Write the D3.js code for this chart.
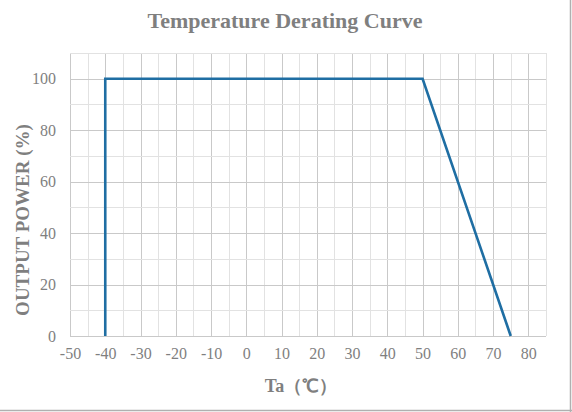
<!DOCTYPE html>
<html><head><meta charset="utf-8">
<script src="https://cdn.jsdelivr.net/npm/d3@7"></script>
<style>body{margin:0;background:#fff}svg{display:block}</style>
</head><body>
<script>
const title = "Temperature Derating Curve";
const xLabel = "Ta（℃）";
const yLabel = "OUTPUT POWER (%)";
const tempC = [-40, -40, 50, 75];
const powerPct = [0, 100, 100, 0];
const xTicks = [-50,-40,-30,-20,-10,0,10,20,30,40,50,60,70,80];
const yTicks = [0,20,40,60,80,100];
const xDomain = [-50, 85];
const yDomain = [0, 110];

const W = 572, H = 412;
const m = {l:70, r:26, t:53, b:76};
const svg = d3.select("body").append("svg").attr("width", W).attr("height", H);
const x = d3.scaleLinear().domain(xDomain).range([m.l, W - m.r]);
const y = d3.scaleLinear().domain(yDomain).range([H - m.b, m.t]);
const serif = "'Liberation Serif','Times New Roman',serif";
const grey = "#7f7f7f";

// frame lines (right, bottom)
svg.append("line").attr("x1", W-1.5).attr("x2", W-1.5).attr("y1", 0).attr("y2", H).attr("stroke", "#b0b0b0").attr("stroke-width", 1.5);
svg.append("line").attr("x1", 0).attr("x2", W).attr("y1", H-1.5).attr("y2", H-1.5).attr("stroke", "#b0b0b0").attr("stroke-width", 1.5);

// grid
const g = svg.append("g");
d3.range(xDomain[0], xDomain[1] + 0.1, 5).forEach(v => {
  const major = v % 10 === 0;
  g.append("line").attr("x1", Math.round(x(v))+0.5).attr("x2", Math.round(x(v))+0.5)
   .attr("y1", y(yDomain[0])).attr("y2", y(yDomain[1]))
   .attr("stroke", major ? "#c9c9c9" : "#e2e2e2").attr("stroke-width", 1);
});
d3.range(yDomain[0], yDomain[1] + 0.1, 10).forEach(v => {
  const major = v % 20 === 0;
  g.append("line").attr("y1", Math.round(y(v))+0.5).attr("y2", Math.round(y(v))+0.5)
   .attr("x1", x(xDomain[0])).attr("x2", x(xDomain[1]))
   .attr("stroke", major ? "#c9c9c9" : "#e2e2e2").attr("stroke-width", 1);
});

const fmt = v => String(v);
const xa = svg.append("g").attr("transform", `translate(0,${y(0)})`)
  .call(d3.axisBottom(x).tickValues(xTicks).tickFormat(fmt).tickSize(0).tickPadding(12));
xa.select(".domain").remove();
xa.selectAll("text").attr("font-family", serif).attr("font-size", 16).attr("fill", grey);

const ya = svg.append("g").attr("transform", `translate(${x(xDomain[0])},0)`)
  .call(d3.axisLeft(y).tickValues(yTicks).tickFormat(fmt).tickSize(0).tickPadding(14));
ya.select(".domain").remove();
ya.selectAll("text").attr("font-family", serif).attr("font-size", 16).attr("fill", grey);

// line
const pts = tempC.map((t, i) => [t, powerPct[i]]);
svg.append("path").datum(pts)
  .attr("d", d3.line().x(d => x(d[0])).y(d => y(d[1])))
  .attr("fill", "none").attr("stroke", "#1f6ea3").attr("stroke-width", 2.6)
  .attr("stroke-linejoin", "miter");

// title
svg.append("text").attr("x", 285).attr("y", 28).attr("text-anchor", "middle")
  .attr("font-family", serif).attr("font-weight", "bold").attr("font-size", 22)
  .attr("fill", grey).text(title);
// x label
svg.append("text").attr("x", 301).attr("y", 392).attr("text-anchor", "middle")
  .attr("font-family", serif).attr("font-weight", "bold").attr("font-size", 18)
  .attr("fill", grey).text(xLabel);
// y label
svg.append("text").attr("transform", "translate(29,220) rotate(-90)").attr("text-anchor", "middle")
  .attr("font-family", serif).attr("font-weight", "bold").attr("font-size", 19)
  .attr("fill", grey).text(yLabel);
</script>
</body></html>
